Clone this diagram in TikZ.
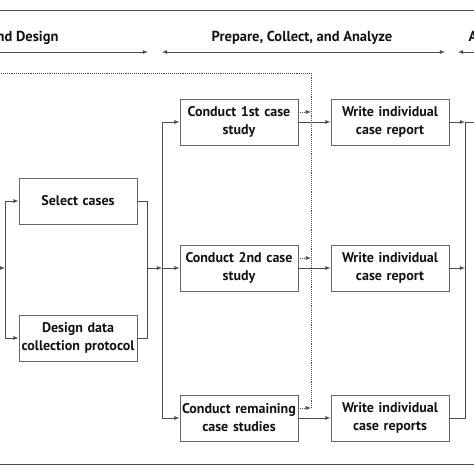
\documentclass[tikz,border=0pt]{standalone}
\usepackage{fontspec}
\setmainfont{PT Sans}
\tikzset{
	stage/.style={draw=black!60, line width=0.9pt, fill=white, minimum width=118pt, minimum height=46pt, text width=116pt, align=center, inner sep=0pt, font=\bfseries\fontsize{14}{18}\selectfont, text=black!92},
	phase/.style={font=\bfseries\fontsize{14.5}{16}\selectfont, text=black!92},
	link/.style={draw=black!70, line width=0.8pt},
	loop/.style={draw=black!70, line width=0.9pt, densely dotted}
}
\begin{document}
\begin{tikzpicture}[x=1pt, y=-1pt]
			\useasboundingbox (0,0) rectangle (474,474);
			\clip (0,0) rectangle (474,474);
			\fill[white] (0,0) rectangle (474,474);
			\coordinate (tl) at (-5,10);
			\coordinate (tr) at (480,10);
			\coordinate (bl) at (-5,464);
			\coordinate (br) at (480,464);
			\draw [link, line width=1pt] (tl) -- (tr);
			\draw [link, line width=1pt] (bl) -- (br);
			\node[phase, anchor=east] at (62, 38) (p1) {Define and Design};
			\node[phase] at (302, 38) (p2) {Prepare, Collect, and Analyze};
			\node[phase, anchor=west] at (465, 38) (p3) {Analyze and Conclude};
			\coordinate (a1) at (-5,52);
			\coordinate (a2) at (148,52);
			\coordinate (a3) at (162,52);
			\coordinate (a4) at (445,52);
			\coordinate (a5) at (458,52);
			\coordinate (a6) at (480,52);
			\draw [link, -latex] (a1) to (a2);
			\draw [link, latex-latex] (a3) to (a4);
			\draw [link, latex-] (a5) to (a6);
			\node[stage] at (78, 201) (sel) {Select cases};
			\node[stage] at (78, 338) (des) {Design data\\collection protocol};
			\node[stage] at (239, 122) (c1) {Conduct 1st case\\study};
			\node[stage] at (239, 268) (c2) {Conduct 2nd case\\study};
			\node[stage] at (239, 418) (c3) {Conduct remaining\\case studies};
			\node[stage] at (390, 122) (w1) {Write individual\\case report};
			\node[stage] at (390, 268) (w2) {Write individual\\case report};
			\node[stage] at (390, 418) (w3) {Write individual\\case reports};
			\coordinate (in) at (-5,268);
			\coordinate (lft) at (5,268);
			\coordinate (mrg) at (147,268);
			\coordinate (split) at (162,268);
			\draw [link, -latex] (in) to (lft);
			\draw [link, -latex] (lft) |- (sel.west);
			\draw [link, -latex] (lft) |- (des.west);
			\draw [link] (sel.east) -| (mrg);
			\draw [link] (des.east) -| (mrg);
			\draw [link, -latex] (mrg) to (split);
			\draw [link, -latex] (split) |- (c1.west);
			\draw [link, -latex] (split) to (c2.west);
			\draw [link, -latex] (split) |- (c3.west);
			\draw [link, -latex] (c1) to (w1);
			\draw [link, -latex] (c2) to (w2);
			\draw [link, -latex] (c3) to (w3);
			\coordinate (d1) at (311,112);
			\coordinate (d2) at (311,258);
			\coordinate (d3) at (311,408);
			\coordinate (dtop) at (311,73);
			\coordinate (dleft) at (-5,73);
			\draw [loop, -latex] ([yshift=10pt]c1.east) to (d1);
			\draw [loop, -latex] ([yshift=10pt]c2.east) to (d2);
			\draw [loop, -latex] ([yshift=10pt]c3.east) to (d3);
			\draw [loop] (d3) -- (dtop) -- (dleft);
			\coordinate (r1) at (465,122);
			\coordinate (r2) at (465,268);
			\coordinate (rout) at (480,122);
			\draw [link, -latex] (w1) to (r1);
			\draw [link] (r1) to (rout);
			\draw [link, -latex] (w2) to (r2);
			\draw [link] (w3.east) -| (r1);
		\end{tikzpicture}
\end{document}
